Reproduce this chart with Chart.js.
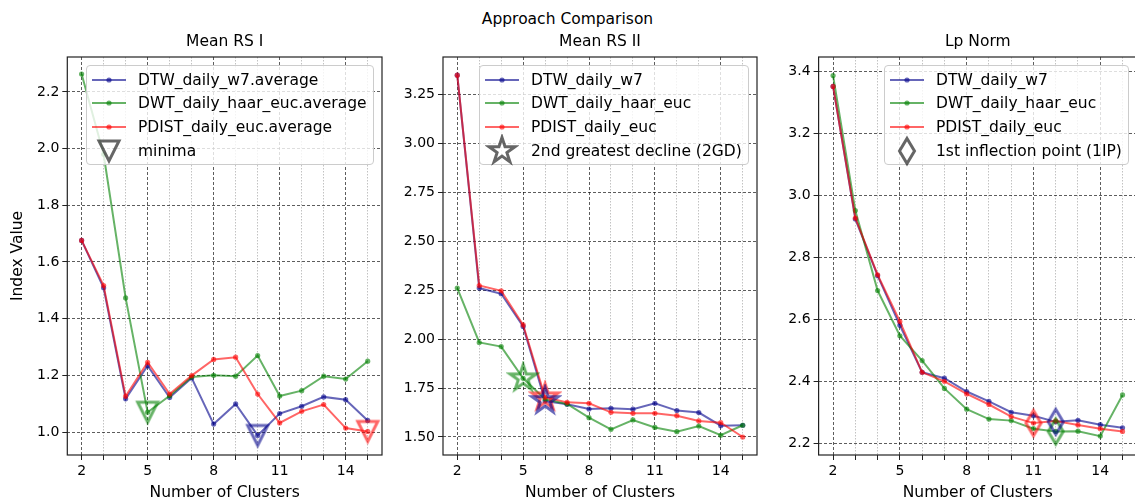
<!DOCTYPE html>
<html>
<head>
<meta charset="utf-8">
<script src="https://cdn.jsdelivr.net/npm/chart.js@4.4.0/dist/chart.umd.min.js"></script>
<style>
  html, body { margin: 0; padding: 0; background: #fff; overflow: hidden; width: 1135px; height: 502px; }
  body { position: relative; font-family: "DejaVu Sans", sans-serif; color: #000; }
  .panel { position: absolute; top: 0; }
  .suptitle { position: absolute; left: 0; width: 1135px; top: 9px; text-align: center; font-size: 15.5px; line-height: 20px; }
  .legend { position: absolute; background: rgba(255,255,255,0.8); border: 1px solid #ccc; border-radius: 4px;
            padding: 2px 6px 2px 5px; font-size: 15.5px; box-sizing: border-box; }
  .legend .row { display: flex; align-items: center; height: 23.6px; white-space: nowrap; }
  .legend canvas { margin-right: 12px; flex: none; }
</style>
</head>
<body>
<div class="suptitle">Approach Comparison</div>

<script>
// ---- data ----
const clusters = [2, 3, 4, 5, 6, 7, 8, 9, 10, 11, 12, 13, 14, 15];
const xMajor = [2, 5, 8, 11, 14];

// Mean RS I
const rs1Dtw   = [1.676, 1.509, 1.117, 1.234, 1.122, 1.191, 1.028, 1.099, 0.988, 1.065, 1.091, 1.124, 1.114, 1.041];
const rs1Dwt   = [2.263, 1.980, 1.473, 1.070, 1.128, 1.194, 1.200, 1.197, 1.270, 1.127, 1.146, 1.197, 1.187, 1.250];
const rs1Pdist = [1.676, 1.517, 1.126, 1.246, 1.134, 1.199, 1.256, 1.264, 1.134, 1.032, 1.073, 1.097, 1.014, 1.002];
const rs1Ticks = [1.0, 1.2, 1.4, 1.6, 1.8, 2.0, 2.2];

// Mean RS II
const rs2Dtw   = [3.349, 2.261, 2.232, 2.065, 1.684, 1.667, 1.643, 1.647, 1.642, 1.672, 1.635, 1.625, 1.558, 1.560];
const rs2Dwt   = [2.261, 1.983, 1.962, 1.800, 1.693, 1.669, 1.599, 1.539, 1.587, 1.549, 1.527, 1.556, 1.509, 1.560];
const rs2Pdist = [3.349, 2.274, 2.247, 2.073, 1.703, 1.677, 1.672, 1.626, 1.621, 1.621, 1.609, 1.582, 1.573, 1.500];
const rs2Ticks = [1.50, 1.75, 2.00, 2.25, 2.50, 2.75, 3.00, 3.25];

// Lp Norm
const lpDtw   = [3.352, 2.924, 2.741, 2.581, 2.429, 2.410, 2.367, 2.335, 2.300, 2.289, 2.269, 2.274, 2.260, 2.250];
const lpDwt   = [3.387, 2.951, 2.693, 2.547, 2.467, 2.377, 2.310, 2.278, 2.273, 2.247, 2.238, 2.239, 2.223, 2.356];
const lpPdist = [3.352, 2.927, 2.744, 2.593, 2.429, 2.400, 2.359, 2.325, 2.286, 2.265, 2.272, 2.259, 2.247, 2.238];
const lpTicks = [2.2, 2.4, 2.6, 2.8, 3.0, 3.2, 3.4];

// cluster count picked by each criterion, per series (DTW, DWT, PDIST)
const rs1Minima = [10, 5, 15];
const rs2Decline = [6, 5, 6];
const lpInflection = [12, 12, 11];

const BLUE = "rgba(0,0,139,0.6)";
const GREEN = "rgba(0,128,0,0.6)";
const RED = "rgba(255,0,0,0.6)";
const GRAY = "rgba(0,0,0,0.6)";
const FONT = "DejaVu Sans";

Chart.defaults.font.family = FONT;
Chart.defaults.color = "#000";

// ---- marker glyphs (hollow, like matplotlib) ----
function markerCanvas(shape, color) {
  const c = document.createElement("canvas");
  c.width = 34; c.height = 34;
  const g = c.getContext("2d");
  const cx = 17, cy = 17;
  g.strokeStyle = color; g.lineWidth = 3; g.lineJoin = "miter";
  g.beginPath();
  if (shape === "v") {
    const s = 10;
    g.moveTo(cx - s, cy - s); g.lineTo(cx + s, cy - s); g.lineTo(cx, cy + s);
  } else if (shape === "star") {
    const R = 13.5, r = R * 0.382;
    for (let i = 0; i < 10; i++) {
      const a = -Math.PI / 2 + i * Math.PI / 5;
      const rr = i % 2 ? r : R;
      const px = cx + rr * Math.cos(a), py = cy + rr * Math.sin(a);
      if (i) g.lineTo(px, py); else g.moveTo(px, py);
    }
  } else if (shape === "d") {
    const h = 12.5, w = 7.5;
    g.moveTo(cx, cy - h); g.lineTo(cx + w, cy); g.lineTo(cx, cy + h); g.lineTo(cx - w, cy);
  }
  g.closePath();
  g.stroke();
  return c;
}

function lineSymbol(color) {
  const c = document.createElement("canvas");
  c.width = 34; c.height = 20;
  const g = c.getContext("2d");
  g.strokeStyle = color; g.lineWidth = 2;
  g.beginPath(); g.moveTo(0, 10); g.lineTo(34, 10); g.stroke();
  g.fillStyle = color;
  g.beginPath(); g.arc(17, 10, 2.6, 0, Math.PI * 2); g.fill();
  return c;
}

const framePlugin = {
  id: "frame",
  afterDraw(chart) {
    const a = chart.chartArea, ctx = chart.ctx;
    ctx.save();
    ctx.strokeStyle = "#222"; ctx.lineWidth = 1.2;
    ctx.strokeRect(a.left, a.top, a.right - a.left, a.bottom - a.top);
    ctx.restore();
  }
};

function makePanel(p) {
  const wrap = document.createElement("div");
  wrap.className = "panel";
  wrap.style.left = p.left + "px";
  const canvas = document.createElement("canvas");
  canvas.width = p.width; canvas.height = 502;
  wrap.appendChild(canvas);
  document.body.appendChild(wrap);

  const colors = [BLUE, GREEN, RED];
  const datasets = p.series.map((s, i) => ({
    label: s.label,
    data: clusters.map((c, k) => ({ x: c, y: s.values[k] })),
    borderColor: colors[i],
    backgroundColor: colors[i],
    borderWidth: 2,
    pointRadius: 2.6,
    pointBorderWidth: 0,
    pointBackgroundColor: colors[i],
    tension: 0,
    order: 3 - i
  }));
  p.picks.forEach((x, i) => {
    datasets.push({
      label: p.markerLabel + " " + i,
      data: [{ x: x, y: p.series[i].values[clusters.indexOf(x)] }],
      showLine: false,
      pointStyle: markerCanvas(p.marker, colors[i]),
      pointRadius: 12,
      order: 0
    });
  });

  const chart = new Chart(canvas, {
    type: "line",
    data: { datasets },
    plugins: [framePlugin],
    options: {
      responsive: false,
      animation: false,
      devicePixelRatio: 1,
      layout: { padding: { left: 0, right: p.padRight, top: 33, bottom: 0 } },
      plugins: {
        legend: { display: false },
        tooltip: { enabled: false },
        title: {
          display: true, text: p.title, fullSize: false,
          font: { size: 15.5, weight: "normal", family: FONT, lineHeight: 1.2 },
          color: "#000", padding: { top: 0, bottom: 5.4 }
        }
      },
      scales: {
        x: {
          type: "linear", min: 1.35, max: 15.65,
          afterBuildTicks: s => { s.ticks = clusters.map(v => ({ value: v })); },
          afterFit: s => { s.height = 47; },
          ticks: {
            autoSkip: false, maxRotation: 0, padding: 3,
            font: { size: 14, family: FONT },
            callback: v => xMajor.includes(v) ? String(v) : ""
          },
          grid: {
            color: c => xMajor.includes(c.tick && c.tick.value) ? "rgba(0,0,0,0.8)" : "rgba(0,0,0,0.3)",
            lineWidth: 0.8,
            tickLength: 5, tickColor: "#222", tickWidth: 1
          },
          border: {
            display: false,
            dash: c => xMajor.includes(c.tick && c.tick.value) ? [3, 2] : [1.5, 1.5]
          },
          title: {
            display: true, text: "Number of Clusters",
            font: { size: 15.5, family: FONT, lineHeight: 1.2 }, padding: 0
          }
        },
        y: {
          type: "linear", min: p.yMin, max: p.yMax,
          afterBuildTicks: s => { s.ticks = p.yTicks.map(v => ({ value: v })); },
          afterFit: s => { s.width = p.yWidth; },
          ticks: {
            padding: 3,
            font: { size: 14, family: FONT },
            callback: v => v.toFixed(p.yDecimals)
          },
          grid: { color: "rgba(0,0,0,0.8)", lineWidth: 0.8, tickLength: 5, tickColor: "#222", tickWidth: 1 },
          border: { display: false, dash: [3, 2] },
          title: {
            display: !!p.yTitle, text: p.yTitle || "",
            font: { size: 15.5, family: FONT, lineHeight: 1.2 }, padding: { top: 8.5, bottom: 0 }
          }
        }
      }
    }
  });

  // legend box, upper right inside the plot area
  const lg = document.createElement("div");
  lg.className = "legend";
  p.series.forEach((s, i) => {
    const row = document.createElement("div");
    row.className = "row";
    row.appendChild(lineSymbol(colors[i]));
    const t = document.createElement("span"); t.textContent = s.label;
    row.appendChild(t);
    lg.appendChild(row);
  });
  const mrow = document.createElement("div");
  mrow.className = "row";
  const mc = markerCanvas(p.marker, GRAY);
  mc.style.width = "34px"; mc.style.height = "34px"; mc.style.margin = "-7px 12px -7px 0";
  mrow.appendChild(mc);
  const mt = document.createElement("span"); mt.textContent = p.markerLabel;
  mrow.appendChild(mt);
  lg.appendChild(mrow);
  document.body.appendChild(lg);
  const a = chart.chartArea;
  lg.style.top = (a.top + 8) + "px";
  lg.style.left = (p.left + a.right - 8 - lg.offsetWidth) + "px";
  return chart;
}

makePanel({
  left: 0, width: 395, padRight: 2, yWidth: 67.3,
  title: "Mean RS I", yTitle: "Index Value",
  yMin: 0.919, yMax: 2.323, yTicks: rs1Ticks, yDecimals: 1,
  series: [
    { label: "DTW_daily_w7.average", values: rs1Dtw },
    { label: "DWT_daily_haar_euc.average", values: rs1Dwt },
    { label: "PDIST_daily_euc.average", values: rs1Pdist }
  ],
  picks: rs1Minima, marker: "v", markerLabel: "minima"
});

makePanel({
  left: 395, width: 375, padRight: 1.3, yWidth: 48,
  title: "Mean RS II",
  yMin: 1.408, yMax: 3.442, yTicks: rs2Ticks, yDecimals: 2,
  series: [
    { label: "DTW_daily_w7", values: rs2Dtw },
    { label: "DWT_daily_haar_euc", values: rs2Dwt },
    { label: "PDIST_daily_euc", values: rs2Pdist }
  ],
  picks: rs2Decline, marker: "star", markerLabel: "2nd greatest decline (2GD)"
});

makePanel({
  left: 770, width: 380, padRight: 5.7, yWidth: 48.6,
  title: "Lp Norm",
  yMin: 2.162, yMax: 3.447, yTicks: lpTicks, yDecimals: 1,
  series: [
    { label: "DTW_daily_w7", values: lpDtw },
    { label: "DWT_daily_haar_euc", values: lpDwt },
    { label: "PDIST_daily_euc", values: lpPdist }
  ],
  picks: lpInflection, marker: "d", markerLabel: "1st inflection point (1IP)"
});
</script>
</body>
</html>
